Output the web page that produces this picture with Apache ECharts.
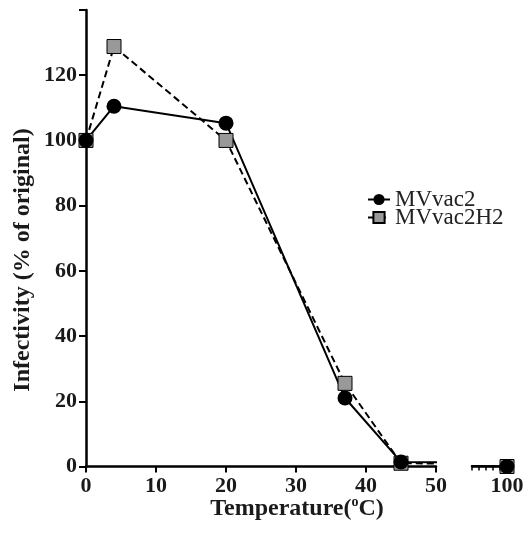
<!DOCTYPE html>
<html>
<head>
<meta charset="utf-8">
<script src="https://cdn.jsdelivr.net/npm/echarts@6/dist/echarts.min.js"></script>
<style>html,body{margin:0;padding:0;background:#fff;}#c{width:529px;height:542px;}</style>
</head>
<body>
<div id="c"></div>
<script>
const temperatures = [0, 4, 20, 37, 45, 100];
const mvvac2 = [100, 110.5, 105.3, 21, 1.4, 0];
const mvvac2H2 = [100, 128.8, 100, 25.5, 1.0, 0];
const seriesNames = ['MVvac2', 'MVvac2H2'];
const yTitle = 'Infectivity (% of original)';
const xTitle = 'Temperature(';

const pairs = vals => temperatures.map((t, i) => [t, vals[i]]);
const FONT = '"Liberation Serif", "Times New Roman", serif';
const INK = '#1a1a1a';

const chart = echarts.init(document.getElementById('c'), null, {renderer: 'canvas'});

const axisCommon = {
  axisLine: {lineStyle: {color: '#000', width: 2.5}},
  splitLine: {show: false},
  axisLabel: {color: INK, fontFamily: FONT, fontWeight: 'bold', fontSize: 22}
};

function mkSeries(name, vals, gi, dashed, symbol, color) {
  return {
    name: name, type: 'line', xAxisIndex: gi, yAxisIndex: gi,
    data: pairs(vals), clip: true,
    symbol: symbol, symbolSize: symbol === 'circle' ? 15 : 14,
    lineStyle: {color: '#000', width: 2, type: dashed ? [7, 4] : 'solid'},
    itemStyle: {color: color, borderColor: '#000', borderWidth: symbol === 'circle' ? 0 : 1},
    emphasis: {disabled: true}, animation: false
  };
}

chart.setOption({
  animation: false,
  grid: [
    {left: 86, top: 10, width: 350, height: 456.5},
    {left: 472, top: 10, width: 35, height: 456.5}
  ],
  xAxis: [
    Object.assign({}, axisCommon, {
      type: 'value', gridIndex: 0, min: 0, max: 50, interval: 10,
      axisTick: {length: 6, lineStyle: {width: 2, color: '#000'}},
      axisLabel: Object.assign({}, axisCommon.axisLabel, {margin: 9})
    }),
    Object.assign({}, axisCommon, {
      type: 'value', gridIndex: 1, min: 95, max: 100, interval: 1,
      axisTick: {length: 4, lineStyle: {width: 1.5, color: '#000'}},
      axisLabel: Object.assign({}, axisCommon.axisLabel, {margin: 9,
        formatter: v => (v === 100 ? '100' : '')})
    })
  ],
  yAxis: [
    Object.assign({}, axisCommon, {
      type: 'value', gridIndex: 0, min: 0, max: 140, interval: 20,
      axisTick: {length: 7, lineStyle: {width: 2, color: '#000'}},
      axisLabel: Object.assign({}, axisCommon.axisLabel, {margin: 9,
        formatter: v => (v === 140 ? '' : String(v))})
    }),
    {type: 'value', gridIndex: 1, min: 0, max: 140, show: false}
  ],
  legend: {
    data: seriesNames, left: 362, top: 183, orient: 'vertical',
    itemWidth: 22, itemHeight: 14, itemGap: -5,
    textStyle: {fontFamily: FONT, fontSize: 23, color: '#222'},
    selectedMode: false
  },
  graphic: [{
    type: 'text', x: 297, y: 509,
    style: {
      text: xTitle + '{sup|o}C)',
      font: 'bold 24px ' + FONT, fill: INK,
      align: 'center', verticalAlign: 'middle',
      rich: {sup: {fontSize: 14, fontWeight: 'bold', fontFamily: FONT, fill: INK, verticalAlign: 'top', lineHeight: 28, padding: [0, 0, 10, 0]}}
    }
  }, {
    type: 'text', x: 23, y: 260, rotation: Math.PI / 2,
    style: {
      text: yTitle, font: 'bold 24px ' + FONT, fill: INK,
      align: 'center', verticalAlign: 'middle'
    }
  }],
  series: [
    mkSeries(seriesNames[1], mvvac2H2, 0, true, 'rect', '#999999'),
    mkSeries(seriesNames[1], mvvac2H2, 1, true, 'rect', '#999999'),
    mkSeries(seriesNames[0], mvvac2, 0, false, 'circle', '#000'),
    mkSeries(seriesNames[0], mvvac2, 1, false, 'circle', '#000')
  ]
});
</script>
</body>
</html>
